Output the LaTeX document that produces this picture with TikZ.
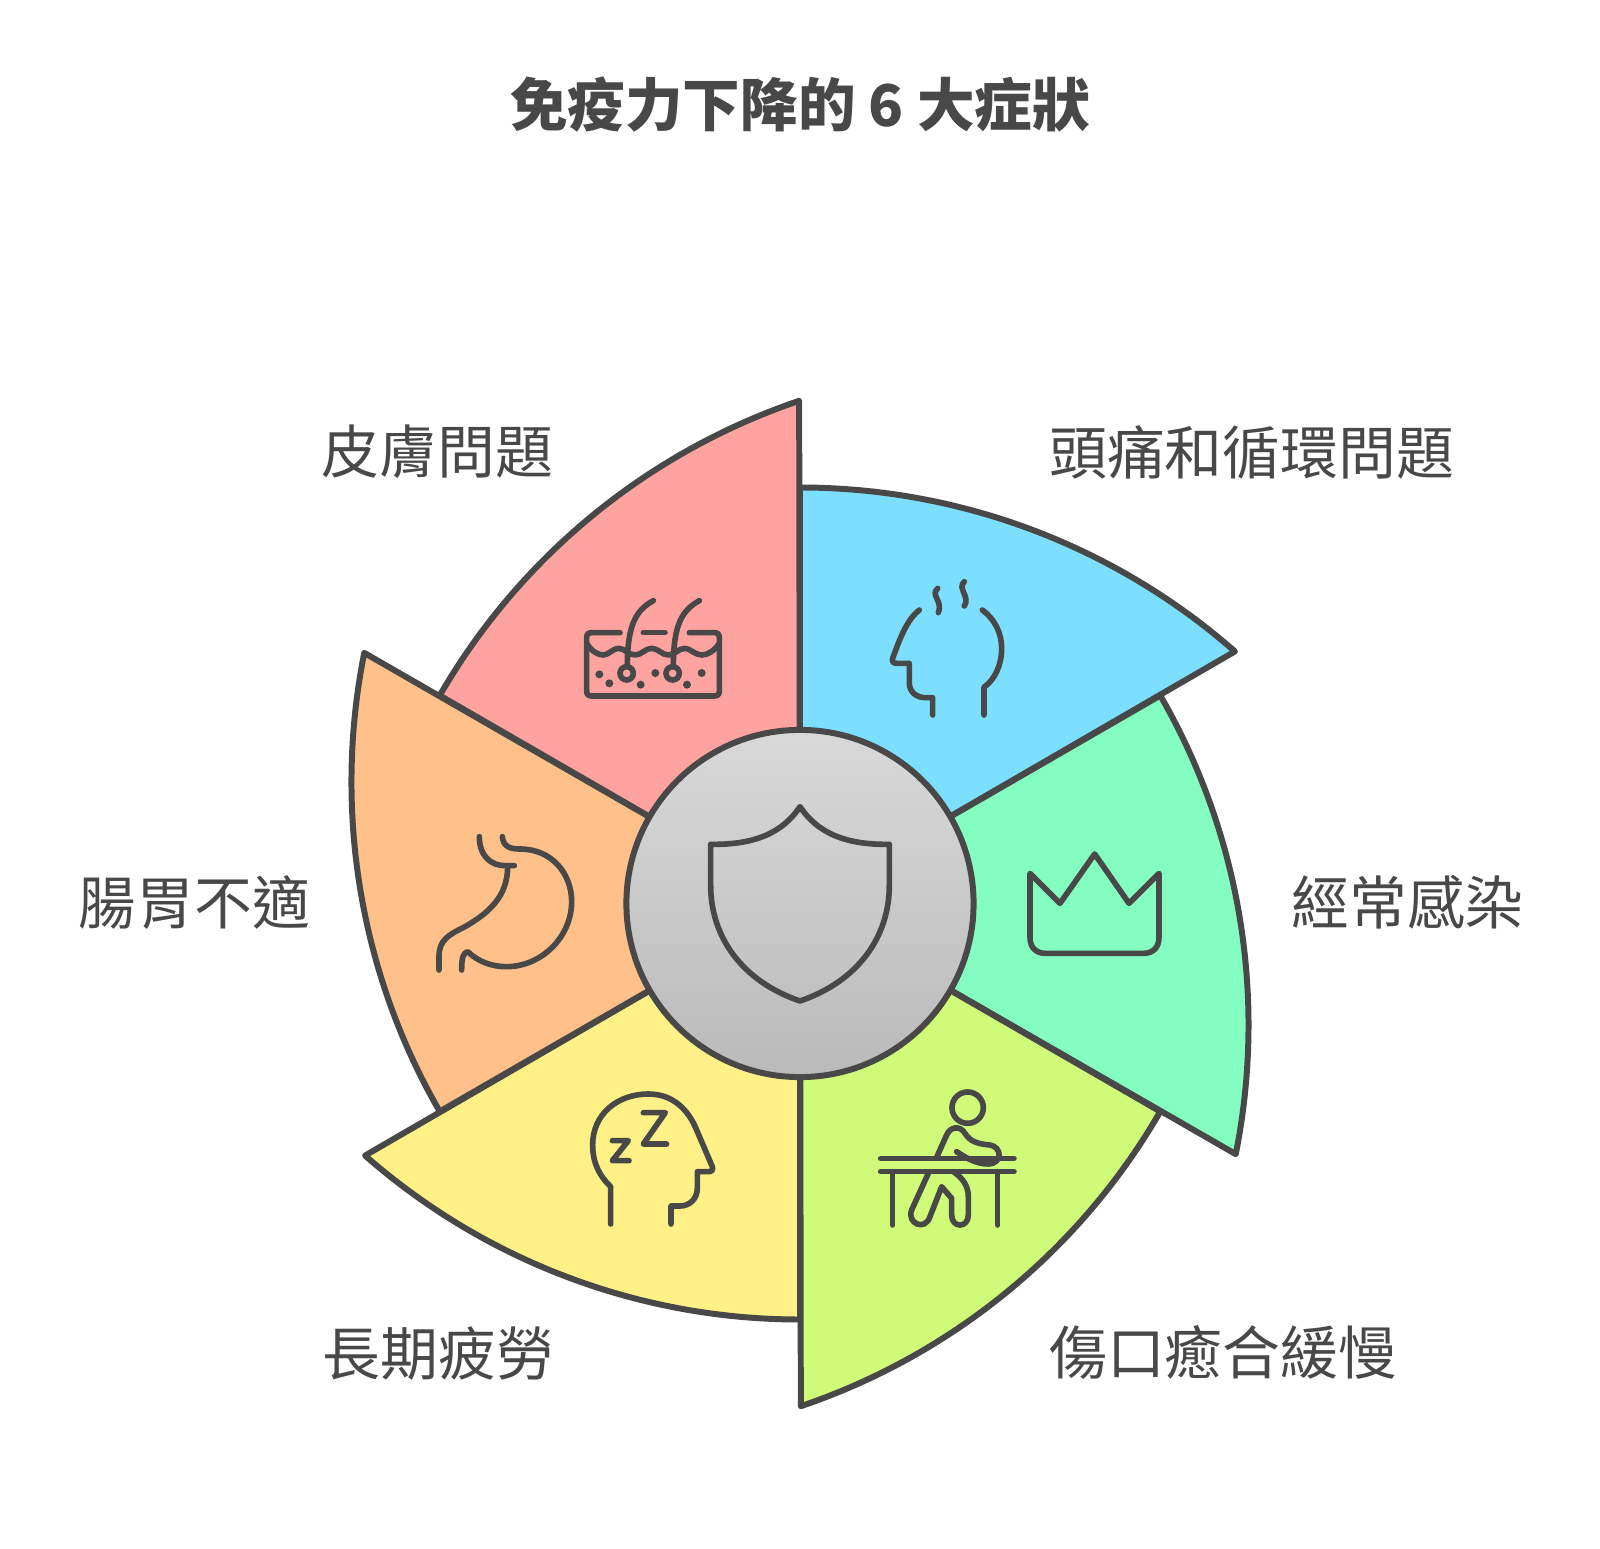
\documentclass[tikz,border=0pt]{standalone}
\usepackage{fontspec}
\setmainfont{Noto Sans CJK TC}
\definecolor{inkgray}{HTML}{484848}
\definecolor{petalblue}{HTML}{7DDFFF}
\definecolor{petalgreen}{HTML}{84FDC0}
\definecolor{petallime}{HTML}{CFFB78}
\definecolor{petalyellow}{HTML}{FFF185}
\definecolor{petalorange}{HTML}{FFC089}
\definecolor{petalpink}{HTML}{FFA3A1}
\tikzset{
  petal/.style={draw=inkgray,line width=1.7pt,line join=round},
  glyph/.style={draw=inkgray,line width=1.6pt,line cap=round,line join=round},
  symptom/.style={text=inkgray,inner sep=0pt,font=\fontsize{16.45}{20}\selectfont},
  crop/.style 2 args={shift={(#1-800,903.5-#2)},scale=1/3,yscale=-1}
}
\begin{document}
\begin{tikzpicture}[x=0.01cm,y=0.01cm]

\useasboundingbox (-800,-644.5) rectangle (800,903.5) ;

% the six petals
\foreach \turn/\col in {0/petalblue,-60/petalgreen,-120/petallime,-180/petalyellow,-240/petalorange,-300/petalpink}
  \draw[petal,fill=\col,rotate=\turn] (0,0) -- (0,416) arc[start angle=90,delta angle=-41.3,radius=659] -- cycle ;

\node[circle,draw=inkgray,line width=1.7pt,minimum size=3.47cm,inner sep=0pt,top color=black!15,bottom color=black!27] (core) at (0,0) {} ;

% shield
\begin{scope}[crop={700}{795}]
\draw[glyph] (300,35) .. controls (250,110) and (170,150) .. (32,148) -- (32,270) .. controls (32,430) and (130,560) .. (300,618) .. controls (470,560) and (568,430) .. (568,270) -- (568,148) .. controls (430,150) and (350,110) .. (300,35) -- cycle ;
\end{scope}

% skin
\begin{scope}[crop={550}{560}]
\draw[glyph] (210,218) -- (125,218) .. controls (115,218) and (110,223) .. (110,233) -- (110,393) .. controls (110,403) and (115,408) .. (125,408) -- (493,408) .. controls (503,408) and (508,403) .. (508,393) -- (508,233) .. controls (508,223) and (503,218) .. (493,218) -- (418,218) ;
\draw[glyph] (280,218) -- (345,218) ;
\draw[glyph] (110,250) .. controls (125,275) and (145,285) .. (160,285) .. controls (175,285) and (190,265) .. (205,265) .. controls (225,265) and (235,285) .. (255,285) .. controls (275,285) and (285,265) .. (305,265) .. controls (325,265) and (335,285) .. (355,285) .. controls (375,285) and (385,265) .. (405,265) .. controls (420,265) and (435,285) .. (455,285) .. controls (475,285) and (495,270) .. (508,250) ;
\foreach \dx in {0,138}{
  \draw[glyph] (310+\dx,122) .. controls (260+\dx,150) and (232+\dx,190) .. (232+\dx,320) ;
  \draw[glyph] (230+\dx,340) circle (20) ;
}
\foreach \px/\py in {148/343,178/370,272/374,316/339,411/374,455/339}
  \fill[inkgray] (\px,\py) circle (12) ;
\end{scope}

% head and steam
\begin{scope}[crop={550}{560}]
\draw[glyph] (1108,150) .. controls (1070,180) and (1050,235) .. (1028,295) .. controls (1025,305) and (1030,310) .. (1040,310) -- (1078,310) -- (1078,370) .. controls (1078,395) and (1100,413) .. (1125,413) -- (1148,413) -- (1148,465) ;
\draw[glyph] (1297,150) .. controls (1335,178) and (1355,220) .. (1355,265) .. controls (1355,315) and (1335,358) .. (1302,382) -- (1302,465) ;
\draw[glyph] (1163,85) .. controls (1140,105) and (1180,125) .. (1165,158) ;
\draw[glyph] (1243,65) .. controls (1220,85) and (1262,110) .. (1243,138) ;
\end{scope}

% crown
\begin{scope}[crop={1020}{840}]
\draw[glyph] (30,100) -- (120,190) -- (224,42) -- (327,190) -- (417,100) -- (417,292) .. controls (417,322) and (400,340) .. (370,340) -- (77,340) .. controls (47,340) and (30,322) .. (30,292) -- cycle ;
\end{scope}

% person at desk
\begin{scope}[crop={570}{1070}]
\draw[glyph] (1193,113) circle (47) ;
\draw[glyph] (932,265) -- (1332,265) ;
\draw[glyph] (932,305) -- (1332,305) ;
\draw[glyph] (968,305) -- (968,465) ;
\draw[glyph] (1283,305) -- (1283,465) ;
\draw[glyph] (1100,262) -- (1130,195) .. controls (1140,170) and (1170,165) .. (1185,190) .. controls (1200,215) and (1225,222) .. (1260,225) .. controls (1295,230) and (1300,280) .. (1255,282) .. controls (1220,282) and (1190,265) .. (1160,245) ;
\draw[glyph] (1075,310) -- (1025,420) .. controls (1010,460) and (1065,485) .. (1080,440) -- (1115,350) -- (1145,385) -- (1145,435) .. controls (1145,475) and (1195,475) .. (1195,435) -- (1195,380) .. controls (1195,350) and (1180,325) .. (1150,305) ;
\end{scope}

% sleeping head
\begin{scope}[crop={570}{1070}]
\draw[glyph] (122,462) -- (122,350) .. controls (90,320) and (68,280) .. (68,225) .. controls (68,130) and (145,72) .. (235,72) .. controls (310,72) and (355,120) .. (380,180) -- (427,290) .. controls (430,300) and (425,305) .. (415,305) -- (382,305) -- (382,355) .. controls (382,385) and (360,408) .. (330,408) -- (303,408) -- (303,462) ;
\draw[glyph] (220,128) -- (286,128) -- (220,222) -- (290,222) ;
\draw[glyph] (127,212) -- (175,212) -- (127,272) -- (177,272) ;
\end{scope}

% stomach
\begin{scope}[crop={425}{820}]
\draw[glyph] (163,50) .. controls (163,110) and (200,137) .. (240,137) -- (268,137) ;
\draw[glyph] (248,140) .. controls (248,230) and (190,280) .. (120,320) .. controls (70,345) and (42,360) .. (42,410) -- (42,450) ;
\draw[glyph] (232,50) .. controls (235,80) and (255,87) .. (285,87) .. controls (380,87) and (440,160) .. (440,245) .. controls (440,350) and (350,440) .. (245,440) .. controls (200,440) and (160,425) .. (128,395) .. controls (115,400) and (110,410) .. (110,450) ;
\end{scope}

% labels
\node[text=inkgray,inner sep=0pt,font=\fontsize{16.38}{20}\selectfont\bfseries] (heading) at (0,798.5) {免疫力下降的 6 大症狀} ;
\node[symptom,anchor=west] (skinlabel) at (-479,451.5) {皮膚問題} ;
\node[symptom,anchor=west] (headlabel) at (248.5,451.5) {頭痛和循環問題} ;
\node[symptom,anchor=west] (infectlabel) at (491,1) {經常感染} ;
\node[symptom,anchor=west] (gutlabel) at (-722,1.5) {腸胃不適} ;
\node[symptom,anchor=west] (tiredlabel) at (-478,-449.5) {長期疲勞} ;
\node[symptom,anchor=west] (woundlabel) at (248.5,-449.5) {傷口癒合緩慢} ;

\end{tikzpicture}
\end{document}
